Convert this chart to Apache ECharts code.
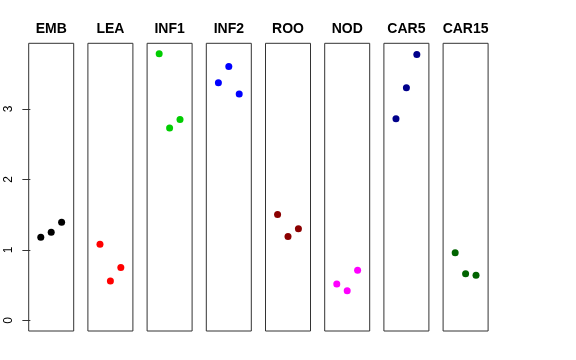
<!DOCTYPE html>
<html>
<head>
<meta charset="utf-8">
<script src="https://cdn.jsdelivr.net/npm/echarts@6/dist/echarts.min.js"></script>
<style>
html,body{margin:0;padding:0;background:#fff;}
#chart{width:576px;height:360px;}
</style>
</head>
<body>
<div id="chart"></div>
<script>
// ---- data ----
var groups = ['EMB', 'LEA', 'INF1', 'INF2', 'ROO', 'NOD', 'CAR5', 'CAR15'];
var replicates = [1, 2, 3];
var EMB   = [1.18, 1.25, 1.39];
var LEA   = [1.08, 0.56, 0.75];
var INF1  = [3.78, 2.73, 2.85];
var INF2  = [3.37, 3.60, 3.21];
var ROO   = [1.50, 1.19, 1.30];
var NOD   = [0.515, 0.42, 0.71];
var CAR5  = [2.86, 3.30, 3.77];
var CAR15 = [0.96, 0.66, 0.64];
var yTicks = [0, 1, 2, 3];
var groupValues = [EMB, LEA, INF1, INF2, ROO, NOD, CAR5, CAR15];
var groupColors = ['#000000', '#FF0000', '#00CD00', '#0000FF', '#8B0000', '#FF00FF', '#00008B', '#006400'];

// ---- layout ----
var panelLeft0 = 28.7, panelStep = 59.2, panelW = 45, panelTop = 43.3, panelH = 287.7;
var yMin = -0.151, yMax = 3.93;
var xMin = -0.16, xMax = 4.16;

var grids = [], xAxes = [], yAxes = [], series = [], titles = [];
groups.forEach(function (g, i) {
  var left = panelLeft0 + panelStep * i;
  grids.push({
    left: left, top: panelTop, width: panelW, height: panelH,
    show: true, borderColor: '#333', borderWidth: 1, backgroundColor: 'transparent'
  });
  xAxes.push({
    gridIndex: i, type: 'value', min: xMin, max: xMax, show: false
  });
  var ya = {
    gridIndex: i, type: 'value', min: yMin, max: yMax,
    splitLine: { show: false }, axisLine: { show: false },
    axisTick: { show: false }, axisLabel: { show: false }
  };
  if (i === 0) {
    ya.axisTick = { show: true, length: 8, customValues: yTicks, lineStyle: { color: '#333', width: 1 } };
    ya.axisLabel = {
      show: true, customValues: yTicks, rotate: 90, margin: 14,
      fontFamily: 'Liberation Sans, Arial, sans-serif', fontSize: 12, color: '#000',
      formatter: function (v) { return String(v); }
    };
  }
  yAxes.push(ya);
  series.push({
    type: 'scatter', xAxisIndex: i, yAxisIndex: i,
    symbol: 'circle', symbolSize: 7,
    itemStyle: { color: groupColors[i], opacity: 1 },
    data: replicates.map(function (r, k) { return [r, groupValues[i][k]]; }),
    silent: true
  });
  titles.push({
    text: g, left: left + panelW / 2, top: 22, textAlign: 'center', padding: 0,
    textStyle: { fontFamily: 'Liberation Sans, Arial, sans-serif', fontSize: 14, fontWeight: 'bold', color: '#000' }
  });
});

var chart = echarts.init(document.getElementById('chart'), null, { renderer: 'canvas' });
chart.setOption({
  animation: false,
  backgroundColor: '#ffffff',
  title: titles,
  grid: grids,
  xAxis: xAxes,
  yAxis: yAxes,
  series: series
});
</script>
</body>
</html>
